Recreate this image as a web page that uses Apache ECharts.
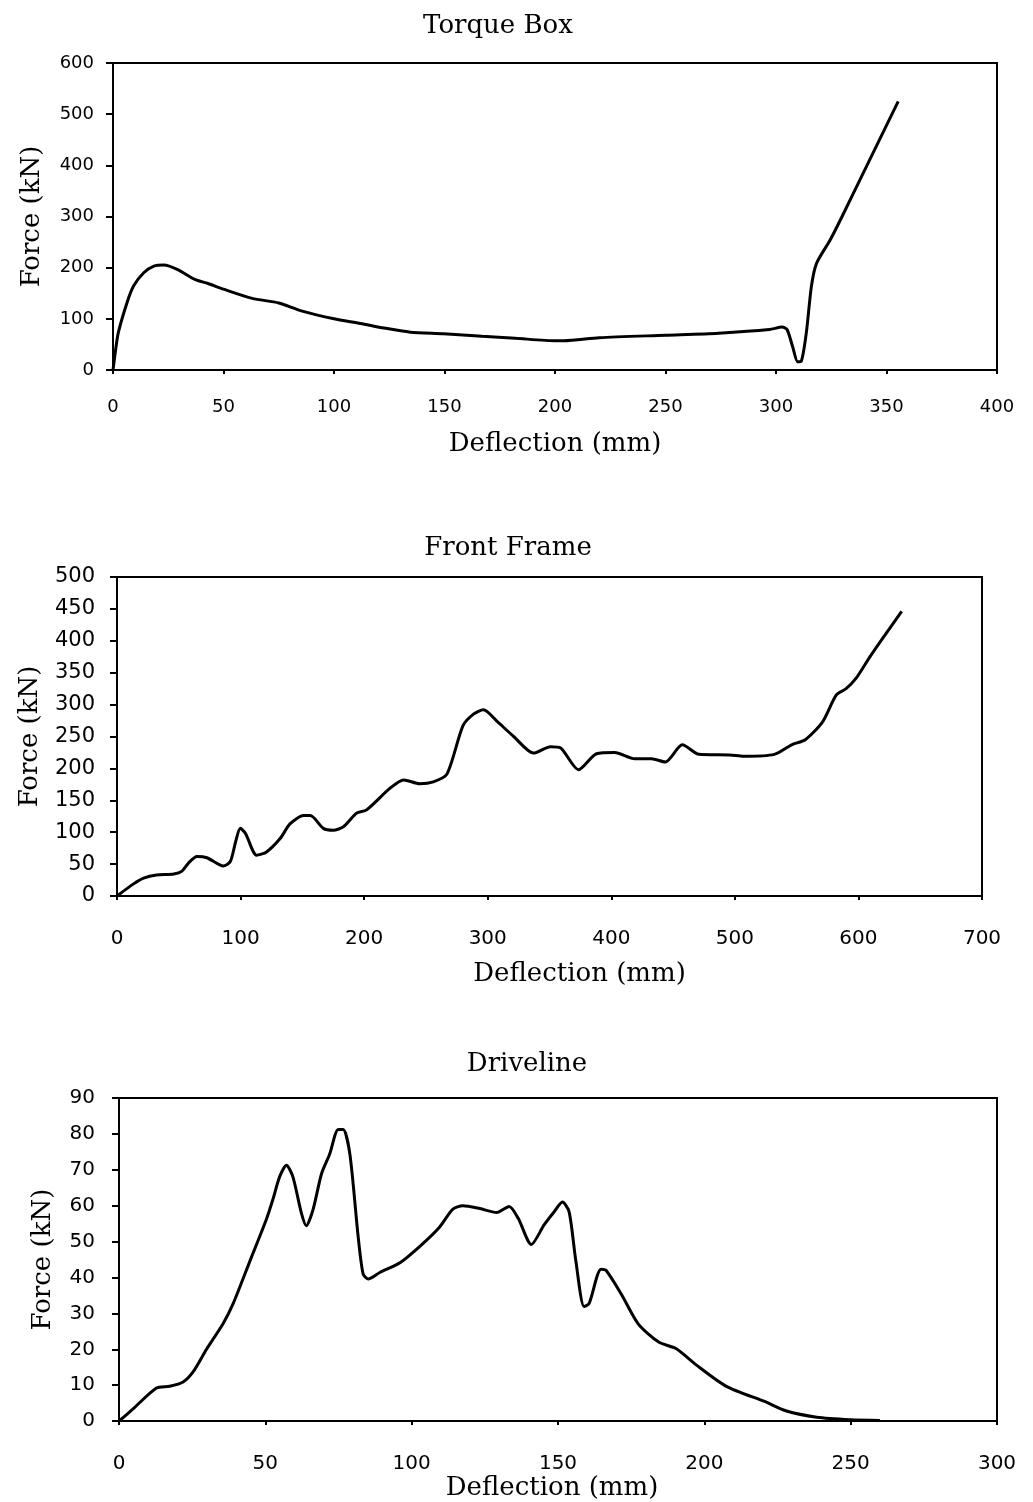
<!DOCTYPE html>
<html>
<head>
<meta charset="utf-8">
<title>Force vs Deflection</title>
<script src="https://cdn.jsdelivr.net/npm/echarts@6/dist/echarts.min.js"></script>
<style>
  html, body { margin: 0; padding: 0; background: #fff; }
  #chart { width: 1033px; height: 1502px; }
</style>
</head>
<body>
<div id="chart"></div>
<script>
// Torque Box: deflection (mm) and force (kN)
const torqueDefl  = [0, 1.2, 2.4, 6.3, 9.3, 13.9, 18.5, 23, 29.3, 37, 43, 50, 63, 75, 85.6, 100, 112, 122.6, 134.6, 149.6, 167, 182, 200.7, 204, 220, 250, 274, 297, 302.8, 305, 307.5, 309.8, 311.4, 313.7, 316, 318.3, 324.5, 329.9, 341.5, 355.3];
const torqueForce = [0, 40, 73, 131, 164, 190, 203, 205, 196, 177, 169, 158, 140, 131, 115, 100, 91, 82, 74, 71, 66, 62, 57, 57, 63, 68, 72, 79, 84, 79, 46, 16, 17, 72, 163, 208, 254, 300, 403, 525];

// Front Frame
const frameDefl  = [0, 13.4, 21.5, 32, 46, 52.6, 58, 64.7, 72.8, 86, 91.7, 96, 99.8, 104, 113, 121, 132, 140, 151, 156.5, 167, 175, 183.5, 194, 202, 221, 232, 245, 256, 267, 280, 288.5, 296.5, 308.5, 321, 337, 350.8, 359, 373.5, 388, 402.7, 419, 432.5, 443.7, 457.5, 471, 496, 507, 532, 546, 557, 571, 582, 590, 598, 609, 620, 635];
const frameForce = [0, 19, 28, 33, 34.5, 39, 52, 62, 60, 47, 54, 85, 106, 98, 64, 69, 90, 113, 126, 126, 106, 103, 109, 130, 135, 169, 182, 176, 179, 191, 267, 285, 292, 272, 250, 224, 234, 232, 198, 223, 225, 215, 215, 210, 237, 222, 221, 219, 222, 237, 245, 273, 315, 325, 341, 374, 405, 446];

// Driveline
const driveDefl  = [0, 4.8, 12.8, 17.3, 21.9, 25.3, 29.9, 35.6, 39, 44.7, 50.4, 52.6, 54.9, 57.2, 59.4, 62.3, 64, 66.3, 69.2, 72, 74.9, 76.6, 78.9, 81.7, 83.4, 85.1, 89.1, 96, 102.7, 109.5, 114, 117.5, 123.3, 129, 133.3, 136.4, 140.9, 145.3, 148.7, 151.5, 153.8, 156.1, 158.9, 160.6, 164.7, 166.4, 171.6, 177.4, 184.4, 190.3, 197.3, 207.7, 220.8, 227.8, 238.4, 250, 260];
const driveForce = [0, 3.4, 9.2, 9.7, 10.9, 13.7, 20, 27.2, 32.7, 44.5, 56.3, 61.8, 68.1, 71.3, 68.1, 58, 54.4, 58.9, 68.9, 74.4, 81.2, 81.2, 74.3, 51.5, 41, 39.6, 41.4, 44.1, 48.6, 54, 59, 60, 59.2, 58.1, 59.8, 56.5, 49.2, 54.7, 58.3, 61, 58.3, 44.6, 31.9, 32.7, 42.3, 42, 35.4, 27.1, 22, 20.2, 15.6, 9.6, 5.4, 2.9, 1.1, 0.4, 0.2];

// Panel titles and axis ranges
const panelTitles = ['Torque Box', 'Front Frame', 'Driveline'];
const xRanges = [{ max: 400, interval: 50 }, { max: 700, interval: 100 }, { max: 300, interval: 50 }];
const yRanges = [{ max: 600, interval: 100 }, { max: 500, interval: 50 }, { max: 90, interval: 10 }];

const zip = (xs, ys) => xs.map((x, i) => [x, ys[i]]);
const seriesData = [zip(torqueDefl, torqueForce), zip(frameDefl, frameForce), zip(driveDefl, driveForce)];

const SERIF = '"DejaVu Serif", "Liberation Serif", serif';
const SANS = '"DejaVu Sans", "Liberation Sans", sans-serif';

// Layout of each panel
const grids = [
  { left: 113, right: 36, top: 63, bottom: 1132 },
  { left: 117, right: 51, top: 577, bottom: 606 },
  { left: 119, right: 36, top: 1098, bottom: 76 }
];
const titlePos = [{ x: 498, y: 13 }, { x: 508, y: 535 }, { x: 527, y: 1051 }];
const yLabelFont = [18, 21, 20];
const yLabelMargin = [19, 22, 24];
const xLabelFont = [18, 20, 20];
const xLabelMargin = [28, 33, 33];
const yNameGap = [68, 74, 63];
const xNameGap = [61, 65, 42];
const xNamePad = [[0, 0, 0, 0], [0, 0, 0, 60], [0, 12, 0, 0]];

const axisLine = { show: true, lineStyle: { color: '#000', width: 2 } };

const option = {
  backgroundColor: '#fff',
  animation: false,
  title: panelTitles.map((t, i) => ({
    text: t,
    left: titlePos[i].x,
    top: titlePos[i].y,
    textAlign: 'center',
    padding: 0,
    textStyle: { fontFamily: SERIF, fontSize: 26, fontWeight: 'normal', color: '#000' }
  })),
  grid: grids.map(g => Object.assign({ show: true, borderColor: '#000', borderWidth: 2, backgroundColor: 'transparent' }, g)),
  xAxis: xRanges.map((r, i) => ({
    type: 'value',
    gridIndex: i,
    min: 0,
    max: r.max,
    interval: r.interval,
    name: 'Deflection (mm)',
    nameLocation: 'middle',
    nameGap: xNameGap[i],
    nameTextStyle: { fontFamily: SERIF, fontSize: 26, color: '#000', padding: xNamePad[i] },
    axisLine: axisLine,
    axisTick: { show: true, inside: false, length: 4, lineStyle: { color: '#000', width: 2 } },
    axisLabel: { fontFamily: SANS, fontSize: xLabelFont[i], color: '#000', margin: xLabelMargin[i] },
    splitLine: { show: false }
  })),
  yAxis: yRanges.map((r, i) => ({
    type: 'value',
    gridIndex: i,
    min: 0,
    max: r.max,
    interval: r.interval,
    name: 'Force (kN)',
    nameLocation: 'middle',
    nameGap: yNameGap[i],
    nameTextStyle: { fontFamily: SERIF, fontSize: 26, color: '#000' },
    axisLine: axisLine,
    axisTick: { show: true, inside: false, length: 7, lineStyle: { color: '#000', width: 2 } },
    axisLabel: { fontFamily: SANS, fontSize: yLabelFont[i], color: '#000', margin: yLabelMargin[i] },
    splitLine: { show: false }
  })),
  series: seriesData.map((d, i) => ({
    type: 'line',
    xAxisIndex: i,
    yAxisIndex: i,
    data: d,
    showSymbol: false,
    smooth: 0.25,
    lineStyle: { color: '#000', width: 3 }
  }))
};

const chart = echarts.init(document.getElementById('chart'), null, { renderer: 'canvas' });
chart.setOption(option);
</script>
</body>
</html>
